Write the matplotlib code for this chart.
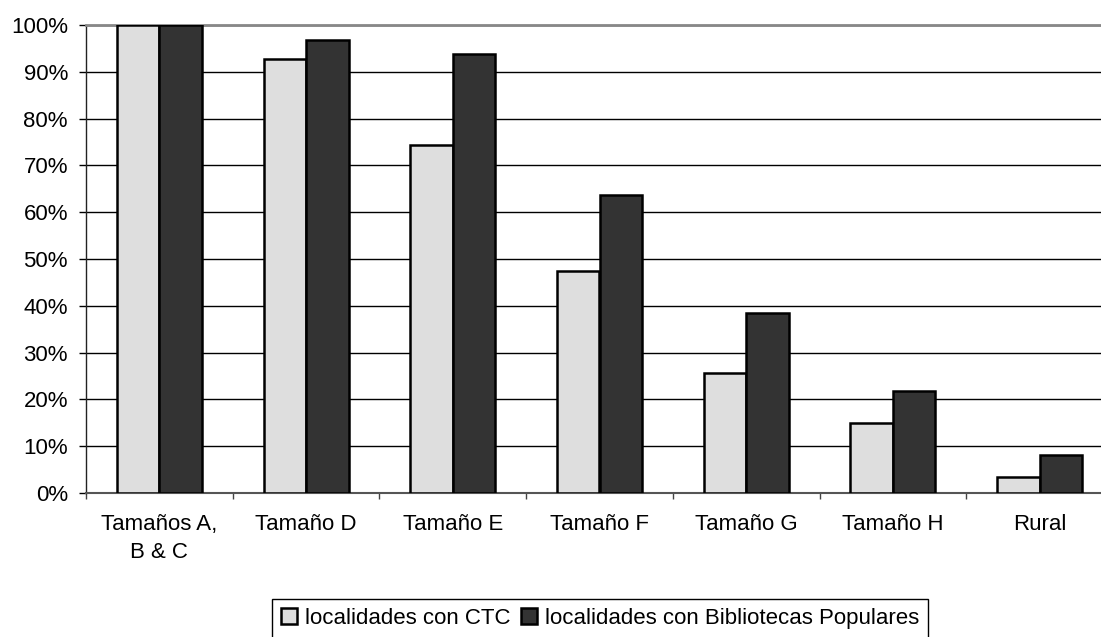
import matplotlib
matplotlib.use("Agg")
import matplotlib.pyplot as plt
import numpy as np

plt.rcParams['font.family'] = ['Liberation Sans', 'DejaVu Sans']

categories = ["Tamaños A,\nB & C", "Tamaño D", "Tamaño E", "Tamaño F", "Tamaño G", "Tamaño H", "Rural"]
ctc = [100.0, 92.7, 74.3, 47.4, 25.6, 14.9, 3.5]
bibliotecas = [100.0, 96.8, 93.7, 63.7, 38.4, 21.9, 8.1]
series_names = ["localidades con CTC", "localidades con Bibliotecas Populares"]
yticks = [0, 10, 20, 30, 40, 50, 60, 70, 80, 90, 100]

FS = 16

fig = plt.figure(figsize=(11.01, 6.37), dpi=100)
ax = fig.add_axes([86/1101, 1-493/637, (1113-86)/1101, (493-25)/637])

x = np.arange(len(categories))
w = 0.29
b1 = ax.bar(x - w/2, ctc, w, color='#dedede', edgecolor='black', linewidth=1.8,
            label=series_names[0], zorder=3)
b2 = ax.bar(x + w/2, bibliotecas, w, color='#333333', edgecolor='black', linewidth=1.8,
            label=series_names[1], zorder=3)

ax.set_xlim(-0.5, len(categories) - 0.5)
ax.set_ylim(0, 100)
ax.set_yticks(yticks)
ax.set_yticklabels([f"{v}%" for v in yticks], fontsize=FS)
ax.yaxis.grid(True, color='black', linewidth=1.0, zorder=0)
ax.set_axisbelow(True)

ax.set_xticks(x)
ax.set_xticklabels(categories, fontsize=FS, linespacing=1.45)
ax.set_xticks(np.arange(-0.5, len(categories)), minor=True)
ax.tick_params(axis='x', which='major', length=0, pad=15)
ax.tick_params(axis='x', which='minor', length=4.5, width=1, color='#444444', direction='out')
ax.tick_params(axis='y', length=5, width=1, direction='out', pad=8)

ax.spines['top'].set_color('#888888')
ax.spines['top'].set_linewidth(2)
ax.spines['right'].set_visible(False)
ax.spines['left'].set_color('#222222')
ax.spines['left'].set_linewidth(1)
ax.spines['bottom'].set_color('#555555')
ax.spines['bottom'].set_linewidth(1.5)

leg = fig.legend(handles=[b1, b2], labels=series_names, loc='upper center',
                 bbox_to_anchor=(600/1101, 1-599/637), ncol=2, fontsize=FS,
                 frameon=True, fancybox=False, edgecolor='black', framealpha=1,
                 handlelength=0.72, handleheight=0.72, handletextpad=0.35,
                 columnspacing=0.5, borderpad=0.4, borderaxespad=0)
leg.get_frame().set_linewidth(1.0)

fig.savefig("out.png", dpi=100)
